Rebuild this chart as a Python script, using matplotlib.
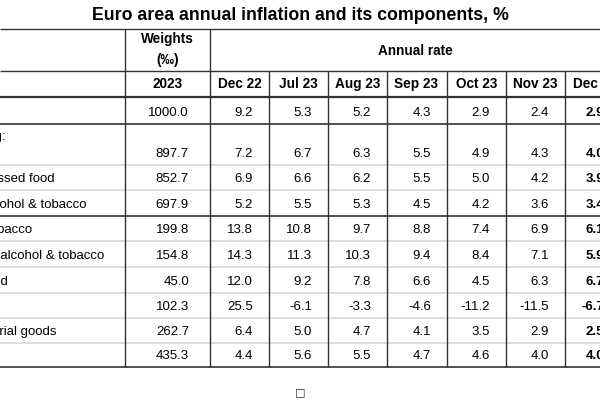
import matplotlib.pyplot as plt

# data
labels = ["All-items HICP", "All-items excluding:",
          "energy, unprocessed food", "energy, food, alcohol & tobacco",
          "Food, alcohol & tobacco", "processed food, alcohol & tobacco",
          "unprocessed food", "Energy", "Non-energy industrial goods", "Services"]
indent = [0, 0, 1, 1, 0, 1, 1, 0, 0, 0]
weights = [1000.0, 897.7, 852.7, 697.9, 199.8, 154.8, 45.0, 102.3, 262.7, 435.3]
months = ["Dec 22", "Jul 23", "Aug 23", "Sep 23", "Oct 23", "Nov 23", "Dec 23"]
rates = [
    [9.2, 5.3, 5.2, 4.3, 2.9, 2.4, 2.9],
    [7.2, 6.7, 6.3, 5.5, 4.9, 4.3, 4.0],
    [6.9, 6.6, 6.2, 5.5, 5.0, 4.2, 3.9],
    [5.2, 5.5, 5.3, 4.5, 4.2, 3.6, 3.4],
    [13.8, 10.8, 9.7, 8.8, 7.4, 6.9, 6.1],
    [14.3, 11.3, 10.3, 9.4, 8.4, 7.1, 5.9],
    [12.0, 9.2, 7.8, 6.6, 4.5, 6.3, 6.7],
    [25.5, -6.1, -3.3, -4.6, -11.2, -11.5, -6.7],
    [6.4, 5.0, 4.7, 4.1, 3.5, 2.9, 2.5],
    [4.4, 5.6, 5.5, 4.7, 4.6, 4.0, 4.0],
]

fam = ["Liberation Sans", "DejaVu Sans"]
fs = 9.5
hfs = 9.8

fig = plt.figure(figsize=(6, 4), dpi=100)
ax = fig.add_axes([0, 0, 1, 1])
ax.set_xlim(0, 600)
ax.set_ylim(400, 0)
ax.axis("off")

dark = "#333333"
light = "#d8d8d8"

# grid
row_edges = [97, 124, 165, 190, 216, 241, 267, 293, 318, 343, 367]
dark_rows = [124, 216]
col_edges = [125, 210, 269, 328, 387, 447, 506, 565, 620]

ax.hlines([29, 70.5], 0, 600, color=dark, lw=1)
ax.hlines(97, 0, 600, color=dark, lw=1.6)
for y in row_edges[1:-1]:
    if y in dark_rows:
        ax.hlines(y, 0, 600, color=dark, lw=1.2)
    else:
        ax.hlines(y, 0, 600, color=light, lw=1.2)
ax.hlines(367, 0, 600, color=dark, lw=1.2)
ax.vlines(col_edges[:2], 29, 367, color=dark, lw=1)
ax.vlines(col_edges[2:], 70.5, 367, color=dark, lw=1)

ax.text(300, 15, "Euro area annual inflation and its components, %",
        ha="center", va="center", fontsize=12.8, fontweight="bold", family=fam)

ax.text(167.5, 39, "Weights", ha="center", va="center", fontsize=hfs,
        fontweight="bold", family=fam)
ax.text(167.5, 60, "(‰)", ha="center", va="center", fontsize=hfs,
        fontweight="bold", family=fam)
ax.text(415, 51, "Annual rate", ha="center", va="center", fontsize=hfs,
        fontweight="bold", family=fam)
ax.text(167.5, 84, "2023", ha="center", va="center", fontsize=hfs,
        fontweight="bold", family=fam)
for i, m in enumerate(months):
    cx = col_edges[i + 1] + 29.5
    ax.text(cx, 84, m, ha="center", va="center", fontsize=hfs,
            fontweight="bold", family=fam)

for r in range(len(labels)):
    top, bot = row_edges[r], row_edges[r + 1]
    yv = bot - 11
    x0 = -97 if indent[r] else -109
    if r == 1:
        ax.text(x0, 137, labels[r], ha="left", va="center",
                fontsize=fs, family=fam)
        ax.text(-97, yv, "energy", ha="left", va="center",
                fontsize=fs, family=fam)
    else:
        ax.text(x0, yv, labels[r], ha="left", va="center",
                fontsize=fs, family=fam)
    ax.text(col_edges[1] - 21, yv, f"{weights[r]:.1f}", ha="right",
            va="center", fontsize=fs, family=fam)
    for j, v in enumerate(rates[r]):
        last = j == len(months) - 1
        ax.text(col_edges[j + 2] - 16, yv, f"{v:.1f}", ha="right",
                va="center", fontsize=fs, family=fam,
                fontweight="bold" if last else "normal")

ax.text(300, 392, "□", ha="center", va="center", fontsize=8,
        family=["DejaVu Sans"], color="#222222")

fig.savefig("out.png", dpi=100)
